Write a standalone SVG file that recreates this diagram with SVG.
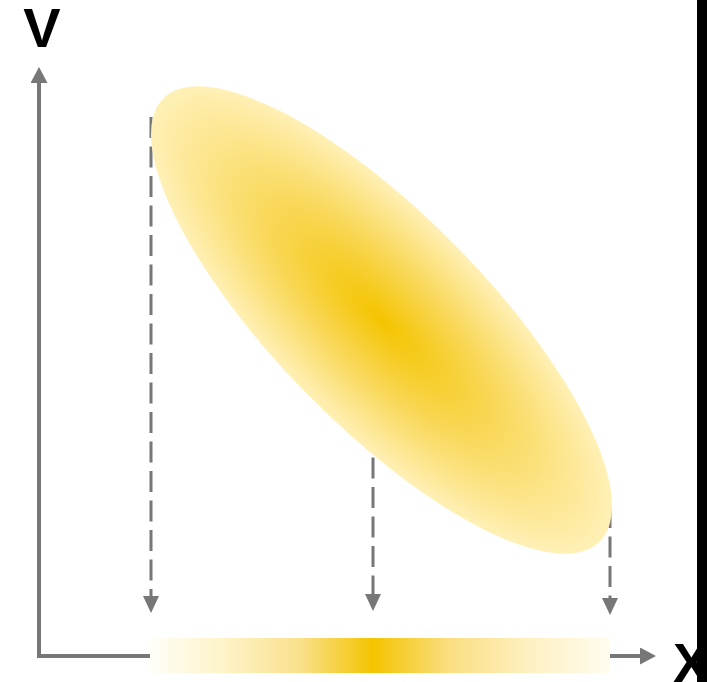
<svg xmlns="http://www.w3.org/2000/svg" width="707" height="682" viewBox="0 0 707 682">
<defs>
<radialGradient id="eg" cx="0.5" cy="0.5" r="0.5">
<stop offset="0" stop-color="#F4C400"/>
<stop offset="0.5" stop-color="#F9D85A"/>
<stop offset="1" stop-color="#FFF0B6"/>
</radialGradient>
<linearGradient id="bg" x1="0" y1="0" x2="1" y2="0">
<stop offset="0" stop-color="#FFFEF8"/>
<stop offset="0.15" stop-color="#FEF4CC"/>
<stop offset="0.32" stop-color="#FAE190"/>
<stop offset="0.485" stop-color="#F4C400"/>
<stop offset="0.65" stop-color="#FADE80"/>
<stop offset="0.83" stop-color="#FEF1C4"/>
<stop offset="1" stop-color="#FFFCF0"/>
</linearGradient>
<marker id="ah" viewBox="0 0 16 17" refX="0" refY="8.5" markerWidth="16" markerHeight="17" markerUnits="userSpaceOnUse" orient="auto">
<path d="M0,0 L16,8.5 L0,17 Z" fill="#777"/>
</marker>
<marker id="ahd" viewBox="0 0 17 16" refX="0" refY="8" markerWidth="17" markerHeight="16" markerUnits="userSpaceOnUse" orient="auto">
<path d="M0,0 L17,8 L0,16 Z" fill="#777"/>
</marker>
</defs>
<style>
.axis{stroke:#777;stroke-width:4;fill:none}
.dash{stroke:#777;stroke-width:3;fill:none;stroke-dasharray:21 8.5}
.lbl{font-family:"Liberation Sans",Arial,sans-serif;font-weight:bold;fill:#000}
</style>
<g id="connectors">
<line class="axis" x1="39" y1="658" x2="39" y2="83" marker-end="url(#ah)"/>
<line class="axis" x1="37" y1="656" x2="640" y2="656" marker-end="url(#ah)"/>
<line class="dash" x1="151" y1="117" x2="151" y2="596" marker-end="url(#ahd)"/>
<line class="dash" x1="373" y1="310" x2="373" y2="594" marker-end="url(#ahd)"/>
<line class="dash" x1="610" y1="507" x2="610" y2="598" marker-end="url(#ahd)"/>
</g>
<g id="ellipse">
<ellipse cx="0" cy="0" rx="311" ry="105" fill="url(#eg)" transform="translate(381.5,320) rotate(45.5)"/>
</g>
<g id="projection">
<rect x="150" y="638" width="460" height="35" fill="url(#bg)"/>
</g>
<g id="label-v"><text class="lbl" x="42" y="47" font-size="56" text-anchor="middle">V</text></g>
<g id="label-x"><text class="lbl" x="673" y="682" font-size="55">X</text></g>
<rect x="697" y="0" width="10" height="682" fill="#000"/>
</svg>
